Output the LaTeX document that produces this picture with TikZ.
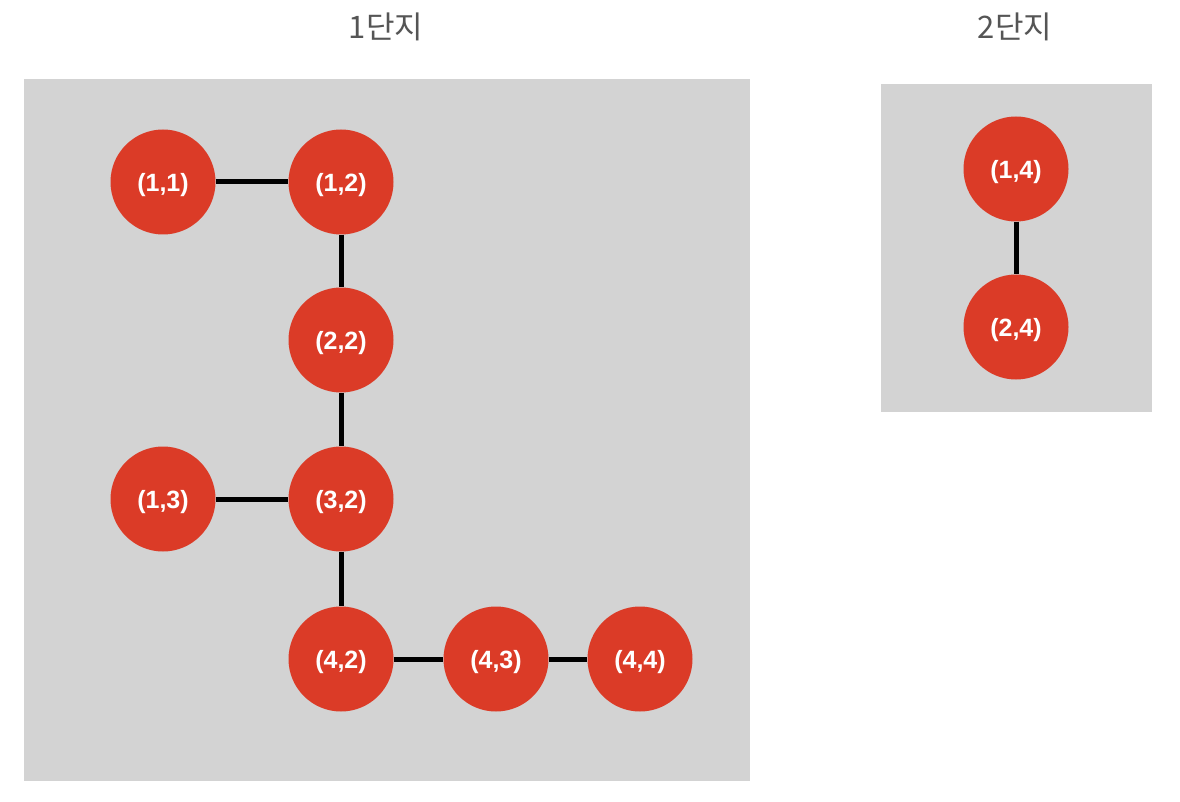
\documentclass[tikz,border=0pt]{standalone}
\usepackage{fontspec}
\setmainfont{Liberation Sans}
\newfontfamily\kfont{Noto Sans CJK KR}
\definecolor{nodered}{HTML}{DB3B27}
\definecolor{boxgrey}{HTML}{D3D3D3}
\definecolor{titlegrey}{HTML}{555555}
\begin{document}
\begin{tikzpicture}[x=1pt,y=-1pt,
  cell/.style={circle,fill=nodered,minimum size=105pt,inner sep=0pt,text=white,text height=22pt,text depth=3pt,font=\fontsize{25}{30}\selectfont\bfseries},
  link/.style={line width=5pt,black},
  panel/.style={fill=boxgrey,draw=none},
  ttl/.style={text=titlegrey,font=\kfont\fontsize{31}{36}\selectfont}]
\useasboundingbox (0,0) rectangle (1180,802);
\fill[white] (0,0) rectangle (1180,802);
\node[panel,minimum width=726pt,minimum height=702pt,inner sep=0pt] (p1) at (387,430) {};
\node[panel,minimum width=271pt,minimum height=328pt,inner sep=0pt] (p2) at (1016.5,248) {};
\node[ttl] (t1) at (386,27) {1단지};
\node[ttl] (t2) at (1015,27) {2단지};
\node[cell] (n11) at (163,182) {(1,1)};
\node[cell] (n12) at (341,182) {(1,2)};
\node[cell] (n22) at (341,340) {(2,2)};
\node[cell] (n13) at (163,499) {(1,3)};
\node[cell] (n32) at (341,499) {(3,2)};
\node[cell] (n42) at (341,659) {(4,2)};
\node[cell] (n43) at (496,659) {(4,3)};
\node[cell] (n44) at (640,659) {(4,4)};
\node[cell] (n14) at (1016,169) {(1,4)};
\node[cell] (n24) at (1016,327) {(2,4)};
\draw[link] (n11) -- (n12);
\draw[link] (n12) -- (n22);
\draw[link] (n22) -- (n32);
\draw[link] (n13) -- (n32);
\draw[link] (n32) -- (n42);
\draw[link] (n42) -- (n43);
\draw[link] (n43) -- (n44);
\draw[link] (n14) -- (n24);
\end{tikzpicture}
\end{document}
